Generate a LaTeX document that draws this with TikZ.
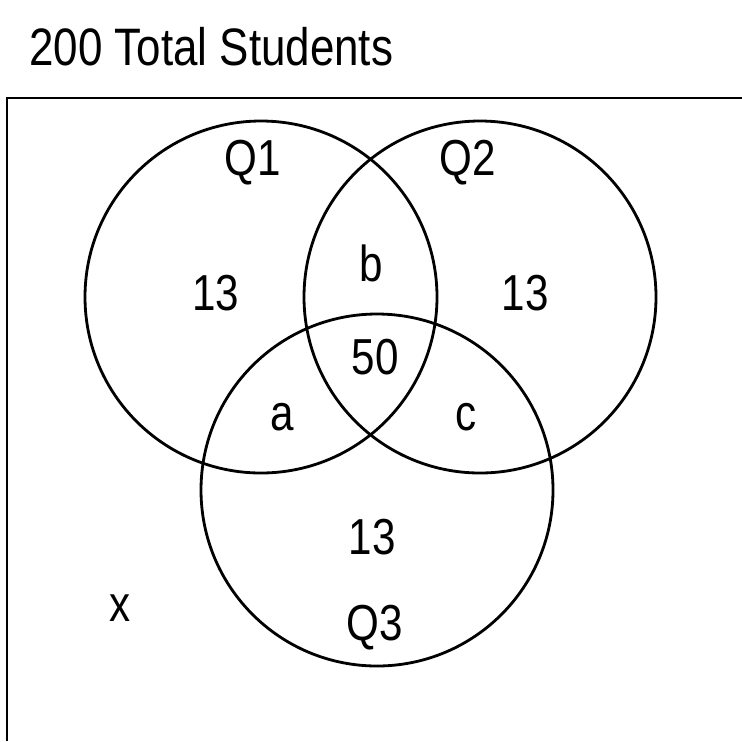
\documentclass[tikz,border=0pt]{standalone}
\usepackage{fontspec}
\setmainfont{Liberation Sans}
\usetikzlibrary{positioning}
\tikzset{
  ring/.style={line width=1.6pt},
  lbl/.style={font=\fontsize{24}{28}\selectfont, inner sep=0pt}
}
\newcommand{\tall}[1]{\scalebox{1}[1.2]{#1}}

\begin{document}
\begin{tikzpicture}[x=0.02cm, y=-0.02cm]
\useasboundingbox (0,0) rectangle (742,741);
% frame (runs off the page at right and bottom)
\draw[line width=1.1pt] (7,741) |- (742,98);
\node[lbl, font=\fontsize{25}{30}\selectfont, anchor=west] (title) at (29,47) {\tall{200 Total Students}};
% the three sets
\coordinate (c1) at (261,297); \coordinate (c2) at (480,297); \coordinate (c3) at (377,490);
\draw[ring] (c1) circle[radius=176];
\draw[ring] (c2) circle[radius=176];
\draw[ring] (c3) circle[radius=176];
\node[lbl] (q1) at (253,163) {\tall{Q1}};
\node[lbl] (q2) at (468,163) {\tall{Q2}};
\node[lbl] (q3) at (375,628) {\tall{Q3}};
\node[lbl] (only1) at (216,293) {\tall{13}};
\node[lbl] (only2) at (525,293) {\tall{13}};
\node[lbl] (only3) at (372,537) {\tall{13}};
\node[lbl] (b) at (371,263) {\tall{b}};
\node[lbl] (all) at (375,357) {\tall{50}};
\node[lbl] (a) at (282,417) {\tall{a}};
\node[lbl] (c) at (466,417) {\tall{c}};
\node[lbl] (x) at (120,608) {\tall{x}};
\end{tikzpicture}
\end{document}
